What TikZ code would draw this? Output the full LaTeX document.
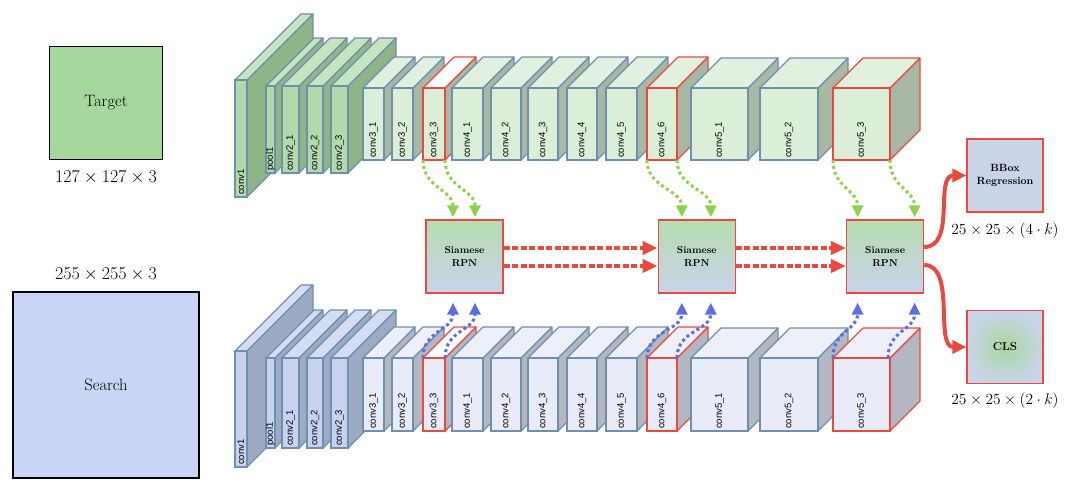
\RequirePackage{fix-cm}
\documentclass[tikz,border=0pt]{standalone}
\usepackage{fontspec}
\newfontfamily\lblfont{Liberation Sans}
\usetikzlibrary{arrows.meta,positioning}
\definecolor{EDGE}{RGB}{111,143,174}
\definecolor{RED}{RGB}{232,74,63}
\definecolor{GREENA}{RGB}{142,210,76}
\definecolor{BLUEA}{RGB}{91,110,230}
% face colours: F front, T top, S side
\definecolor{GF}{HTML}{B3D8AB}
\definecolor{GT}{HTML}{C6E4C0}
\definecolor{GS}{HTML}{8DB586}
\definecolor{LF}{HTML}{DBEED8}
\definecolor{LT}{HTML}{E2F1DF}
\definecolor{LS}{HTML}{A7B8A5}
\definecolor{BF}{HTML}{C7D3EE}
\definecolor{BT}{HTML}{D4DDF2}
\definecolor{BS}{HTML}{9DAAC4}
\definecolor{MF}{HTML}{E9ECF8}
\definecolor{MT}{HTML}{EDF0F9}
\definecolor{MS}{HTML}{B2B7C2}
\colorlet{WF}{LF}
\colorlet{WT}{white}
\colorlet{WS}{LS}
\colorlet{VF}{MF}
\colorlet{VT}{white}
\colorlet{VS}{MS}
\definecolor{targetc}{HTML}{A6D89E}
\definecolor{searchc}{HTML}{C9D5F5}
\definecolor{RPNtop}{HTML}{B6DCB0}
\definecolor{RPNbot}{HTML}{C8D3EA}
\definecolor{headc}{HTML}{C9D4E8}
\tikzstyle{blocklabel} = [rotate=90, anchor=west, inner sep=0pt, font=\lblfont\fontsize{9.5}{10}\selectfont]
\tikzstyle{inbox} = [draw=black, line width=1.6pt, font=\fontsize{16.5}{19}\selectfont]
\tikzstyle{dimlabel} = [inner sep=2pt, font=\fontsize{18}{21}\selectfont]
\tikzstyle{headdim} = [inner sep=2pt, font=\fontsize{15.5}{18}\selectfont]
\tikzstyle{rpn} = [draw=RED, line width=1.3pt, minimum width=77pt, minimum height=73pt,
top color=RPNtop, bottom color=RPNbot, align=center, font=\bfseries\fontsize{10}{12.5}\selectfont]
\tikzstyle{headbox} = [draw=RED, line width=1.3pt, minimum width=76pt, minimum height=73pt,
align=center, font=\bfseries\fontsize{10.5}{13}\selectfont]
\tikzstyle{fuse} = [draw=RED, line width=4.5pt, dash pattern=on 6pt off 2.5pt, -{Triangle[length=15pt,width=13pt]}]
\tikzstyle{outflow} = [draw=RED, line width=4pt, -{Triangle[length=14pt,width=13pt]}]
\tikzstyle{tflow} = [draw=GREENA, line width=3pt, dash pattern=on 3pt off 3pt, -{Triangle[length=12pt,width=11pt]}]
\tikzstyle{sflow} = [draw=BLUEA, line width=3pt, dash pattern=on 3pt off 3pt, -{Triangle[length=12pt,width=11pt]}]
% #1 name, #2 x, #3 y of front top, #4 width, #5 height, #6 depth, #7 colours, #8 edge, #9 label
\newcommand{\cuboid}[9]{%
  \coordinate (#1-tl) at (#2,#3);
  \coordinate (#1-tr) at (#2+#4,#3);
  \coordinate (#1-bl) at (#2,#3+#5);
  \coordinate (#1-br) at (#2+#4,#3+#5);
  \draw[draw=#8, line width=1.1pt, line join=round, fill=#7S] (#1-tr) -- ++(#6,-#6) -- ++(0,#5) -- (#1-br) -- cycle;
  \draw[draw=#8, line width=1.1pt, line join=round, fill=#7T] (#1-tl) -- ++(#6,-#6) -- ++(#4,0) -- (#1-tr) -- cycle;
  \draw[draw=#8, line width=1.1pt, fill=#7F] (#1-tl) rectangle (#1-br);
  \node[blocklabel] (#1-lbl) at (#2+#4/2,#3+#5-2) {#9};
}

\begin{document}
\begin{tikzpicture}[x=1pt, y=-1pt]
  \path[use as bounding box, fill=white] (0,0) rectangle (1080,500);

  \node[inbox, fill=targetc, minimum size=113pt] (target) at (106,103) {Target};
  \node[dimlabel, below=8pt of target] (tdim) {$127\times127\times3$};
  \node[inbox, fill=searchc, minimum size=186pt] (search) at (106,385) {Search};
  \node[dimlabel, above=8pt of search] (sdim) {$255\times255\times3$};

  % target branch
  \cuboid{t-c1}{235}{80}{12}{117}{66}{G}{EDGE}{conv1}
  \cuboid{t-p1}{266}{86}{9}{87}{48}{G}{EDGE}{pool1}
  \cuboid{t-c21}{282}{86}{17}{87}{48}{G}{EDGE}{conv2\_1}
  \cuboid{t-c22}{307}{86}{16}{87}{48}{G}{EDGE}{conv2\_2}
  \cuboid{t-c23}{331}{86}{17}{87}{48}{G}{EDGE}{conv2\_3}
  \cuboid{t-c31}{363}{88}{21}{72}{31}{L}{EDGE}{conv3\_1}
  \cuboid{t-c32}{392}{88}{21}{72}{31}{L}{EDGE}{conv3\_2}
  \cuboid{t-c33}{423}{88}{22}{72}{31}{W}{RED}{conv3\_3}
  \cuboid{t-c41}{452}{88}{31}{72}{31}{L}{EDGE}{conv4\_1}
  \cuboid{t-c42}{491}{88}{30}{72}{31}{L}{EDGE}{conv4\_2}
  \cuboid{t-c43}{528}{88}{30}{72}{31}{L}{EDGE}{conv4\_3}
  \cuboid{t-c44}{567}{88}{30}{72}{31}{L}{EDGE}{conv4\_4}
  \cuboid{t-c45}{606}{88}{31}{72}{31}{L}{EDGE}{conv4\_5}
  \cuboid{t-c46}{647}{88}{30}{72}{31}{L}{RED}{conv4\_6}
  \cuboid{t-c51}{691}{88}{57}{72}{30}{L}{EDGE}{conv5\_1}
  \cuboid{t-c52}{760}{88}{58}{72}{30}{L}{EDGE}{conv5\_2}
  \cuboid{t-c53}{833}{88}{57}{72}{30}{L}{RED}{conv5\_3}

  % search branch
  \cuboid{s-c1}{235}{351}{12}{116}{66}{B}{EDGE}{conv1}
  \cuboid{s-p1}{266}{358}{9}{90}{48}{B}{EDGE}{pool1}
  \cuboid{s-c21}{282}{358}{17}{90}{48}{B}{EDGE}{conv2\_1}
  \cuboid{s-c22}{307}{358}{16}{90}{48}{B}{EDGE}{conv2\_2}
  \cuboid{s-c23}{331}{358}{17}{90}{48}{B}{EDGE}{conv2\_3}
  \cuboid{s-c31}{363}{358}{21}{73}{31}{M}{EDGE}{conv3\_1}
  \cuboid{s-c32}{392}{358}{21}{73}{31}{M}{EDGE}{conv3\_2}
  \cuboid{s-c33}{423}{358}{22}{73}{31}{V}{RED}{conv3\_3}
  \cuboid{s-c41}{452}{358}{31}{73}{31}{M}{EDGE}{conv4\_1}
  \cuboid{s-c42}{491}{358}{30}{73}{31}{M}{EDGE}{conv4\_2}
  \cuboid{s-c43}{528}{358}{30}{73}{31}{M}{EDGE}{conv4\_3}
  \cuboid{s-c44}{567}{358}{30}{73}{31}{M}{EDGE}{conv4\_4}
  \cuboid{s-c45}{606}{358}{31}{73}{31}{M}{EDGE}{conv4\_5}
  \cuboid{s-c46}{647}{358}{30}{73}{31}{M}{RED}{conv4\_6}
  \cuboid{s-c51}{691}{358}{57}{73}{30}{M}{EDGE}{conv5\_1}
  \cuboid{s-c52}{760}{358}{58}{73}{30}{M}{EDGE}{conv5\_2}
  \cuboid{s-c53}{833}{358}{57}{73}{30}{M}{RED}{conv5\_3}

  \node[rpn] (rpn1) at (464.5,256.5) {Siamese\\RPN};
  \node[rpn, right=154pt of rpn1] (rpn2) {Siamese\\RPN};
  \node[rpn, right=110pt of rpn2] (rpn3) {Siamese\\RPN};
  \node[headbox, fill=headc] (bbox) at (1005,175.5) {BBox\\Regression};
  \node[headdim, below=8pt of bbox] (bdim) {$25\times25\times(4\cdot k)$};
  \node[headbox, inner color=targetc, outer color=headc, font=\bfseries\fontsize{11.5}{14}\selectfont] (cls) at (1005,347) {CLS};
  \node[headdim, below=7pt of cls] (cdim) {$25\times25\times(2\cdot k)$};

  \draw[tflow] (t-c33-bl) .. controls +(0,28) and +(0,-28) .. ([xshift=-11.5pt,yshift=2pt]rpn1.north);
  \draw[tflow] (t-c33-br) .. controls +(0,28) and +(0,-28) .. ([xshift=10.5pt,yshift=2pt]rpn1.north);
  \draw[tflow] (t-c46-bl) .. controls +(0,28) and +(0,-28) .. ([xshift=-15pt,yshift=2pt]rpn2.north);
  \draw[tflow] (t-c46-br) .. controls +(0,28) and +(0,-28) .. ([xshift=14pt,yshift=2pt]rpn2.north);
  \draw[tflow] (t-c53-bl) .. controls +(0,28) and +(0,-28) .. ([xshift=-27.5pt,yshift=2pt]rpn3.north);
  \draw[tflow] (t-c53-br) .. controls +(0,28) and +(0,-28) .. ([xshift=29.5pt,yshift=2pt]rpn3.north);

  \draw[sflow] (s-c33-tl) .. controls +(0,-28) and +(0,28) .. ([xshift=-11.5pt,yshift=-9pt]rpn1.south);
  \draw[sflow] (s-c33-tr) .. controls +(0,-28) and +(0,28) .. ([xshift=10.5pt,yshift=-9pt]rpn1.south);
  \draw[sflow] (s-c46-tl) .. controls +(0,-28) and +(0,28) .. ([xshift=-15pt,yshift=-9pt]rpn2.south);
  \draw[sflow] (s-c46-tr) .. controls +(0,-28) and +(0,28) .. ([xshift=14pt,yshift=-9pt]rpn2.south);
  \draw[sflow] (s-c53-tl) .. controls +(0,-28) and +(0,28) .. ([xshift=-27.5pt,yshift=-9pt]rpn3.south);
  \draw[sflow] ([xshift=-2pt]s-c53-tr) .. controls +(0,-28) and +(0,28) .. ([xshift=29.5pt,yshift=-9pt]rpn3.south);

  \draw[fuse] ([yshift=8.5pt]rpn1.east) -- ([yshift=8.5pt]rpn2.west);
  \draw[fuse] ([yshift=-9.5pt]rpn1.east) -- ([yshift=-9.5pt]rpn2.west);
  \draw[fuse] ([yshift=8.5pt]rpn2.east) -- ([yshift=8.5pt]rpn3.west);
  \draw[fuse] ([yshift=-9.5pt]rpn2.east) -- ([yshift=-9.5pt]rpn3.west);

  \draw[outflow] ([yshift=9.5pt]rpn3.east) .. controls +(32,0) and +(-32,0) .. (bbox.west);
  \draw[outflow] ([yshift=-8.5pt]rpn3.east) .. controls +(32,0) and +(-32,0) .. (cls.west);
\end{tikzpicture}
\end{document}
